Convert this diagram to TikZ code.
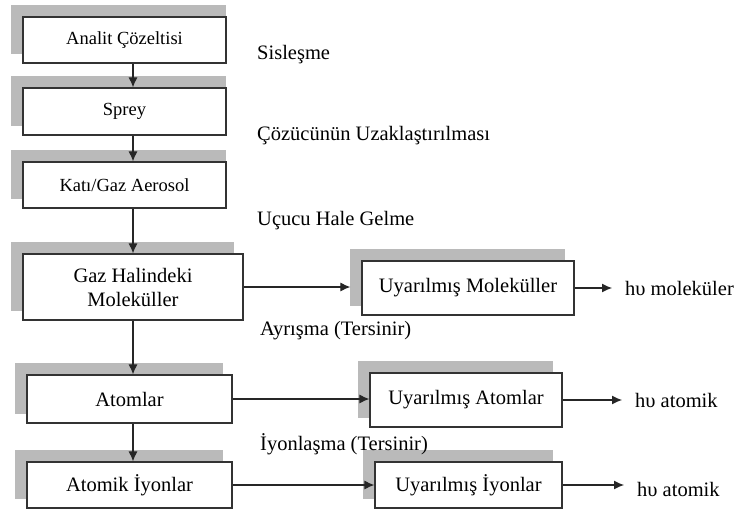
\documentclass[tikz,border=0pt]{standalone}
\usepackage{fontspec}
\setmainfont{Liberation Serif}
\usetikzlibrary{arrows.meta,calc,backgrounds}

\begin{document}
\begin{tikzpicture}[x=1pt, y=-1pt,
  box/.style={draw=black!80, line width=1.2pt, fill=white, inner sep=0pt, align=center, font=\fontsize{20.5}{24}\selectfont},
  smallbox/.style={box, minimum width=203pt, font=\fontsize{18.5}{20}\selectfont},
  lbl/.style={anchor=west, inner sep=0pt, font=\fontsize{20.5}{24}\selectfont},
  arr/.style={-{Latex[length=10pt,width=9pt]}, line width=1.1pt, black!85}]
  \useasboundingbox (0,0) rectangle (737,514);

  % Main column
  \node[smallbox, minimum height=46pt] (analit) at (124.5, 40) {Analit Çözeltisi};
  \node[smallbox, minimum height=47pt] (sprey) at (124.5, 111.5) {Sprey};
  \node[smallbox, minimum height=46pt] (aerosol) at (124.5, 185) {Katı/Gaz Aerosol};
  \node[box, minimum width=220pt, minimum height=66pt] (gaz) at (133, 287) {Gaz Halindeki\\Moleküller};
  \node[box, minimum width=205pt, minimum height=48pt] (atom) at (129.5, 399) {Atomlar};
  \node[box, minimum width=205pt, minimum height=46pt] (ion) at (129.5, 485) {Atomik İyonlar};

  % Excited species
  \node[box, minimum width=212pt, minimum height=54pt] (mol) at (468, 288) {Uyarılmış Moleküller};
  \node[box, minimum width=192pt, minimum height=54pt] (exatom) at (466, 400) {Uyarılmış Atomlar};
  \node[box, minimum width=187pt, minimum height=46pt] (exion) at (468.5, 485) {Uyarılmış İyonlar};

  % Shadows behind the boxes
  \begin{scope}[on background layer]
    \foreach \n/\r in {analit/-1, sprey/-1, aerosol/-1, gaz/-10, atom/-10, ion/-10, mol/-10, exatom/-10, exion/-10}
      \fill[black!27] ($(\n.north west)+(-11,-11)$) rectangle ($(\n.south east)+(\r,-10)$);
  \end{scope}

  % Step labels
  \node[lbl] (sis) at (257, 55) {Sisleşme};
  \node[lbl] (coz) at (257, 136) {Çözücünün Uzaklaştırılması};
  \node[lbl] (ucu) at (257, 221) {Uçucu Hale Gelme};
  \node[lbl] (ayr) at (260, 331) {Ayrışma (Tersinir)};
  \node[lbl] (iyo) at (260, 444) {İyonlaşma (Tersinir)};

  % Emission labels
  \node[lbl] (hvmol) at (625, 288) {hυ moleküler};
  \node[lbl] (hvatom) at (635, 400) {hυ atomik};
  \node[lbl] (hvion) at (637, 489) {hυ atomik};

  % Arrows down the column
  \draw[arr] (analit.south -| gaz) -- (sprey.north -| gaz);
  \draw[arr] (sprey.south -| gaz) -- (aerosol.north -| gaz);
  \draw[arr] (aerosol.south -| gaz) -- (gaz.north);
  \draw[arr] (gaz.south) -- (atom.north -| gaz);
  \draw[arr] (atom.south -| gaz) -- (ion.north -| gaz);

  % Arrows to the right
  \draw[arr, shorten >=11pt] (gaz.east) -- (gaz.east -| mol.west);
  \draw[arr] (atom.east) -- (atom.east -| exatom.west);
  \draw[arr] (ion.east) -- (ion.east -| exion.west);
  \draw[arr, shorten >=13pt] (mol.east) -- (mol.east -| hvmol.west);
  \draw[arr, shorten >=13pt] (exatom.east) -- (exatom.east -| hvatom.west);
  \draw[arr, shorten >=13pt] (exion.east) -- (exion.east -| hvion.west);
\end{tikzpicture}
\end{document}
